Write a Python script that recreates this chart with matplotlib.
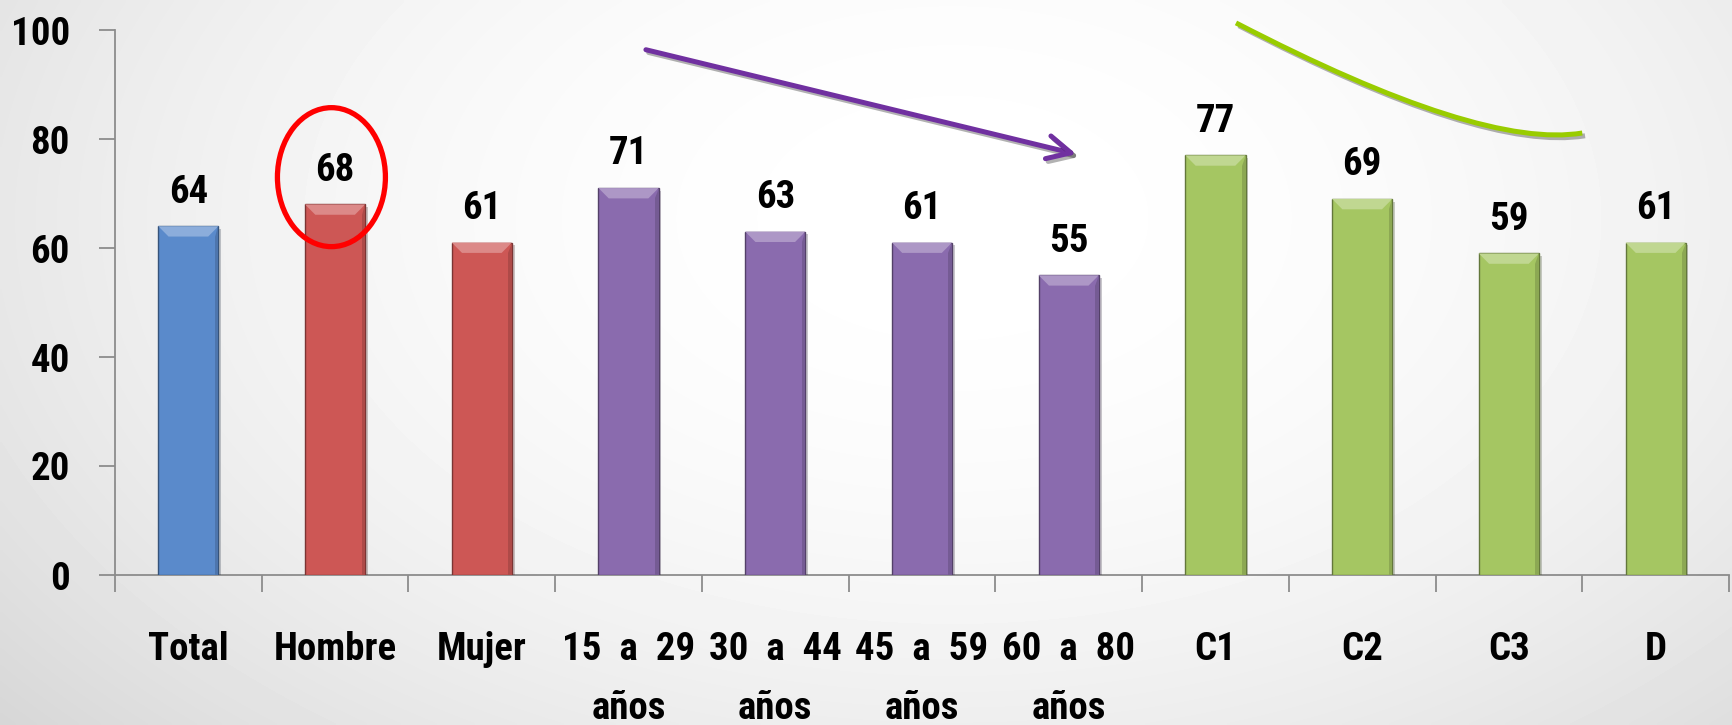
import numpy as np
import matplotlib
matplotlib.use("Agg")
import matplotlib.pyplot as plt
from matplotlib import font_manager
from matplotlib.patches import Ellipse, Polygon, FancyArrowPatch, PathPatch
from matplotlib.path import Path
import matplotlib.patheffects as pe
from matplotlib.colors import to_rgb

# ---- data ----
categories = ["Total", "Hombre", "Mujer",
              "15  a  29\naños", "30  a  44\naños", "45  a  59\naños", "60  a  80\naños",
              "C1", "C2", "C3", "D"]
values = [64, 68, 61, 71, 63, 61, 55, 77, 69, 59, 61]
groups = ["total", "sexo", "sexo", "edad", "edad", "edad", "edad",
          "gse", "gse", "gse", "gse"]
group_colors = {"total": "#5A8ACB", "sexo": "#CD5755",
                "edad": "#8A6BAE", "gse": "#A5C662"}
yticks = [0, 20, 40, 60, 80, 100]

# ---- font ----
available = {f.name for f in font_manager.fontManager.ttflist}
FONT = "DejaVu Sans"
for cand in ["Liberation Sans Narrow", "Roboto Condensed", "DejaVu Sans Condensed",
             "Liberation Sans"]:
    if cand in available:
        FONT = cand
        break
plt.rcParams["font.family"] = [FONT, "DejaVu Sans"]
FS = 28
WEIGHT = "bold"

W, H = 1733, 725
fig = plt.figure(figsize=(W / 100, H / 100), dpi=100)

# soft radial background
bg = fig.add_axes([0, 0, 1, 1], zorder=-10)
yy, xx = np.mgrid[0:1:200j, 0:1:480j]
r2 = ((xx - 0.55) / 0.6) ** 2 + ((yy - 0.3) / 0.9) ** 2
shade = np.clip(1.0 - 0.11 * r2, 0, 1)
bg.imshow(shade, cmap="gray", vmin=0, vmax=1, aspect="auto",
          extent=[0, 1, 0, 1], interpolation="bilinear")
bg.set_axis_off()

ax = fig.add_axes([115 / W, 150 / H, 1614 / W, 545 / H])
ax.set_facecolor("none")
ax.set_xlim(-0.5, len(categories) - 0.5)
ax.set_ylim(0, 100)

axis_gray = "#8C8C8C"
for s in ["top", "right"]:
    ax.spines[s].set_visible(False)
for s in ["left", "bottom"]:
    ax.spines[s].set_color(axis_gray)
    ax.spines[s].set_linewidth(1.3)

x = np.arange(len(categories))
colors = [group_colors[g] for g in groups]
width = 0.41
bars = ax.bar(x, values, width=width, color=colors, zorder=3,
              edgecolor=[tuple(c * 0.6 for c in to_rgb(col)) for col in colors],
              linewidth=1.0)

# bevelled top and right shading on each bar
bev_x, bev_y = 0.07, 1.9
for b, col in zip(bars, colors):
    bx, bw, bh = b.get_x(), b.get_width(), b.get_height()
    rgb = np.array(to_rgb(col))
    light = tuple(rgb + (1 - rgb) * 0.3)
    dark = tuple(rgb * 0.85)
    b.set_path_effects([pe.SimplePatchShadow(offset=(2, -2), alpha=0.25), pe.Normal()])
    ax.add_patch(Polygon([(bx, bh), (bx + bw, bh), (bx + bw - bev_x, bh - bev_y),
                          (bx + bev_x, bh - bev_y)], closed=True,
                         facecolor=light, edgecolor="none", zorder=4))
    ax.add_patch(Polygon([(bx + bw, bh), (bx + bw, 0), (bx + bw - 0.025, 0),
                          (bx + bw - 0.025, bh - bev_y)], closed=True,
                         facecolor=dark, edgecolor="none", zorder=4))

# value labels
for xi, v in zip(x, values):
    ax.annotate(f"{v}", (xi, v), xytext=(0, 17), textcoords="offset points",
                ha="center", va="baseline", fontsize=FS, fontweight=WEIGHT,
                color="black", zorder=6)

# y axis ticks
ax.set_yticks(yticks)
ax.set_yticklabels([str(t) for t in yticks], fontsize=FS, fontweight=WEIGHT)
ax.tick_params(axis="y", length=11.5, width=1.3, color=axis_gray, pad=21)

# x axis: boundary ticks, centred labels (one line at a time)
ax.set_xticks(np.arange(-0.5, len(categories), 1.0))
ax.set_xticklabels([])
ax.tick_params(axis="x", length=12, width=1.3, color=axis_gray)
line_offsets = [-61, -104]
for xi, lab in zip(x, categories):
    for off, part in zip(line_offsets, lab.split("\n")):
        ax.annotate(part, (xi, 0), xytext=(0, off), textcoords="offset points",
                    ha="center", va="baseline", fontsize=FS, fontweight=WEIGHT,
                    annotation_clip=False)

# highlight around the "Hombre" value
ax.add_patch(Ellipse((0.975, 73.0), 0.736, 25.5, facecolor="none",
                     edgecolor="#FF0000", linewidth=3.8, zorder=7, clip_on=False))

# downward trend arrow over the age groups
arrow = FancyArrowPatch((3.10, 96.5), (6.07, 77.1), arrowstyle="->",
                        mutation_scale=42, color="#7030A0", linewidth=3.6,
                        zorder=7, clip_on=False)
arrow.set_path_effects([pe.SimpleLineShadow(offset=(2, -2), alpha=0.3), pe.Normal()])
ax.add_patch(arrow)

# curve over the socioeconomic groups
curve = PathPatch(Path([(7.14, 101.3), (8.81, 78.0), (9.50, 81.1)],
                       [Path.MOVETO, Path.CURVE3, Path.CURVE3]),
                  facecolor="none", edgecolor="#99CC00", linewidth=3.6,
                  zorder=7, clip_on=False, capstyle="butt")
curve.set_path_effects([pe.SimpleLineShadow(offset=(2, -2), alpha=0.3), pe.Normal()])
ax.add_patch(curve)

fig.savefig("out.png", dpi=100)
